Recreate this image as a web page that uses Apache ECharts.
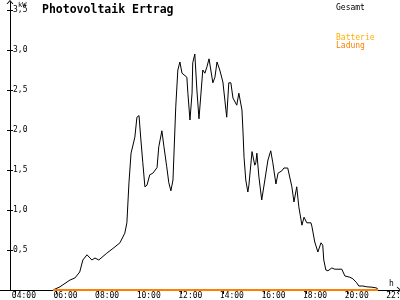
<!DOCTYPE html>
<html>
<head>
<meta charset="utf-8">
<script src="https://cdn.jsdelivr.net/npm/echarts@6/dist/echarts.min.js"></script>
<style>html,body{margin:0;padding:0;background:#fff}#c{width:400px;height:300px}</style>
</head>
<body>
<div id="c"></div>
<script>
// Data
const gesamtTimes = ['05:50','06:10','06:39','06:53','07:07','07:16','07:28','07:42','07:51','08:02','08:25','08:43','09:03','09:17','09:23','09:29','09:35','09:40','09:46','09:52','09:58','10:03','10:09','10:15','10:21','10:29','10:38','10:50','10:55','11:04','11:10','11:18','11:24','11:30','11:36','11:44','11:50','11:56','12:02','12:07','12:16','12:19','12:25','12:31','12:33','12:39','12:45','12:51','12:56','13:02','13:08','13:14','13:20','13:31','13:37','13:43','13:51','14:00','14:06','14:11','14:17','14:23','14:29','14:40','14:46','14:49','14:55','14:58','15:01','15:06','15:12','15:15','15:24','15:26','15:32','15:35','15:38','15:44','15:52','15:55','16:01','16:10','16:18','16:24','16:33','16:39','16:50','16:56','17:07','17:10','17:19','17:25','17:33','17:39','17:48','17:54','18:02','18:14','18:17','18:25','18:34','18:43','18:48','18:51','18:57','19:03','19:14','19:23','19:43','19:52','20:06','20:15','20:26','20:32','20:44','20:55','21:10','21:24','21:27'];
const gesamtValues = [0,0.04,0.125,0.15,0.225,0.375,0.44,0.375,0.4,0.375,0.46,0.52,0.59,0.71,0.84,1.34,1.71,1.8,1.91,2.16,2.18,1.9,1.59,1.29,1.31,1.44,1.46,1.53,1.79,1.99,1.79,1.54,1.34,1.24,1.375,2.29,2.75,2.85,2.71,2.69,2.66,2.46,2.125,2.46,2.84,2.95,2.5,2.14,2.13,2.75,2.71,2.79,2.89,2.59,2.66,2.85,2.75,2.6,2.36,2.16,2.59,2.59,2.4,2.31,2.46,2.475,2.25,1.975,1.66,1.375,1.225,1.31,1.73,1.74,1.56,1.59,1.71,1.41,1.125,1.14,1.375,1.625,1.74,1.59,1.325,1.46,1.49,1.525,1.525,1.54,1.29,1.1,1.29,1.04,0.81,0.91,0.84,0.84,0.79,0.6,0.475,0.59,0.56,0.375,0.25,0.24,0.275,0.26,0.26,0.175,0.16,0.14,0.09,0.05,0.05,0.04,0.035,0.025,0];
const ladungTimes = ['05:50','21:27'];
const ladungValues = [0,0];
const batterieTimes = ['05:50','21:27'];
const batterieValues = [0,0];
const xTickLabels = ['04:00','06:00','08:00','10:00','12:00','14:00','16:00','18:00','20:00','22:00'];
const yTickValues = [0.5,1.0,1.5,2.0,2.5,3.0,3.5];

function toMin(s){const p=s.split(':');return (+p[0])*60+(+p[1]);}
function pairs(t,v){return t.map((s,i)=>[toMin(s),v[i]]);}
function fmtT(m){const h=Math.floor(m/60),mm=Math.round(m%60);return String(h).padStart(2,'0')+':'+String(mm).padStart(2,'0');}

const FONT = '"DejaVu Sans Mono", monospace';
const CHEVRON = 'path://M0,6 L5,0 L10,6 L8.4,6 L5,2 L1.6,6 Z';
const chart = echarts.init(document.getElementById('c'), null, {renderer:'canvas'});
const xTicks = xTickLabels.map(toMin);

chart.setOption({
  animation:false,
  backgroundColor:'#fff',
  title:[
    {text:'Photovoltaik Ertrag', left:37, top:-1, textStyle:{fontFamily:FONT, fontSize:11.5, fontWeight:'bold', color:'#000'}},
    {text:'kW', left:13, top:-3, textStyle:{fontFamily:FONT, fontSize:7, fontWeight:'normal', color:'#000'}},
    {text:'h', left:384, top:275, textStyle:{fontFamily:FONT, fontSize:8, fontWeight:'normal', color:'#000'}}
  ],
  legend:[
    {data:[{name:'Gesamt', textStyle:{color:'#000'}}], left:325, top:-1, itemWidth:0, itemHeight:0, selectedMode:false, textStyle:{fontFamily:FONT, fontSize:8}},
    {data:[{name:'Batterie', textStyle:{color:'#FFB000'}}], left:325, top:29, itemWidth:0, itemHeight:0, selectedMode:false, textStyle:{fontFamily:FONT, fontSize:8}},
    {data:[{name:'Ladung', textStyle:{color:'#FF8000'}}], left:325, top:37, itemWidth:0, itemHeight:0, selectedMode:false, textStyle:{fontFamily:FONT, fontSize:8}}
  ],
  grid:{left:0, right:1, top:2, bottom:10, containLabel:false, outerBoundsMode:'none'},
  xAxis:{
    type:'value', min:197, max:1348,
    axisLine:{show:true, onZero:false, lineStyle:{color:'#000', width:1}, symbol:['none',CHEVRON], symbolSize:[7,5]},
    axisTick:{show:true, length:4, customValues:xTicks, lineStyle:{color:'#000'}},
    axisLabel:{show:true, customValues:xTicks, formatter:v=>fmtT(v), fontFamily:FONT, fontSize:8, color:'#000', margin:2, align:'center', padding:[0,0,0,18], hideOverlap:false, showMaxLabel:true, showMinLabel:true},
    splitLine:{show:false}
  },
  yAxis:[
    {
      type:'value', min:0, max:3.6, position:'left', offset:-10,
      axisLine:{show:true, onZero:false, lineStyle:{color:'#000', width:1}, symbol:['none',CHEVRON], symbolSize:[7,5]},
      axisTick:{show:true, length:3, inside:false, customValues:yTickValues, lineStyle:{color:'#000'}},
      axisLabel:{show:true, inside:true, customValues:yTickValues, formatter:v=>v.toFixed(1).replace('.',','), fontFamily:FONT, fontSize:8, color:'#000', margin:3, verticalAlign:'middle'},
      splitLine:{show:false}
    },
    {
      type:'value', min:0, max:3.6, position:'left', offset:-10,
      axisLine:{show:false, onZero:false},
      axisTick:{show:true, length:3, inside:true, customValues:yTickValues, lineStyle:{color:'#000'}},
      axisLabel:{show:false},
      splitLine:{show:false}
    }
  ],
  series:[
    {name:'Gesamt', type:'line', data:pairs(gesamtTimes,gesamtValues), showSymbol:false, symbol:'none', lineStyle:{color:'#000', width:1}, itemStyle:{color:'#000'}, z:3},
    {name:'Batterie', type:'line', data:pairs(batterieTimes,batterieValues), showSymbol:false, symbol:'none', lineStyle:{color:'#FFB000', width:2}, itemStyle:{color:'#FFB000'}, z:4},
    {name:'Ladung', type:'line', data:pairs(ladungTimes,ladungValues), showSymbol:false, symbol:'none', lineStyle:{color:'#FF8000', width:2}, itemStyle:{color:'#FF8000'}, z:5}
  ]
});
</script>
</body>
</html>
